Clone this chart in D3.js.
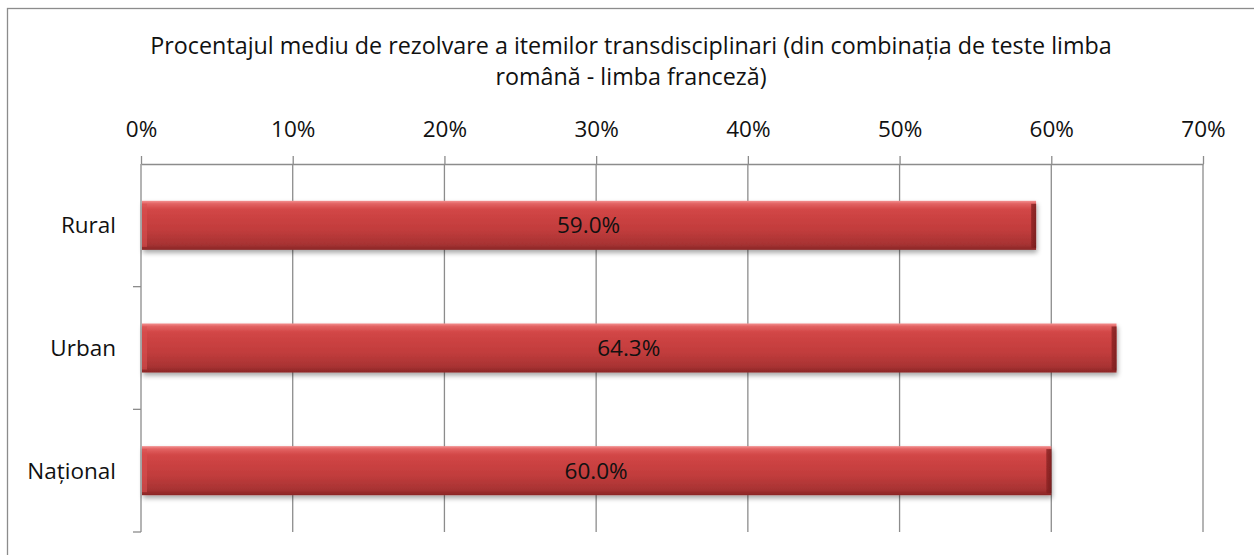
<!DOCTYPE html>
<html>
<head>
<meta charset="utf-8">
<script src="https://cdn.jsdelivr.net/npm/d3@7"></script>
<style>
  body { margin: 0; background: #fff; }
  text { font-family: "Open Sans", "Noto Sans", sans-serif; fill: #111; }
</style>
</head>
<body>
<script>
// data
const categories = ["Rural", "Urban", "Național"];
const values = [59.0, 64.3, 60.0];
const xTicks = [0, 10, 20, 30, 40, 50, 60, 70];
const titleLines = [
  "Procentajul mediu de rezolvare a itemilor transdisciplinari (din combinația de teste limba",
  "română - limba franceză)"
];
// data

const W = 1254, H = 555;
const margin = { top: 164, left: 141, right: 51, bottom: 23 };
const width = W - margin.left - margin.right,
      height = H - margin.top - margin.bottom;
const fontSize = "22.5px";

const svg = d3.select("body").append("svg")
  .attr("width", W)
  .attr("height", H);

// outer frame
svg.append("rect")
  .attr("x", 7.5).attr("y", 8.5)
  .attr("width", W).attr("height", H)
  .attr("fill", "none")
  .attr("stroke", "#8c8c8c")
  .attr("stroke-width", 1.3);

const defs = svg.append("defs");
const grad = defs.append("linearGradient")
  .attr("id", "barGrad").attr("x1", 0).attr("y1", 0).attr("x2", 0).attr("y2", 1);
[[0, "#f39090"], [0.06, "#e26262"], [0.18, "#d24646"], [0.6, "#c13c3c"], [0.88, "#a83333"], [1, "#8a2626"]]
  .forEach(s => grad.append("stop").attr("offset", s[0]).attr("stop-color", s[1]));

const edge = defs.append("linearGradient")
  .attr("id", "edgeGrad").attr("x1", 0).attr("y1", 0).attr("x2", 1).attr("y2", 0);
[[0, "#8a2222"], [1, "#6b1818"]]
  .forEach(s => edge.append("stop").attr("offset", s[0]).attr("stop-color", s[1]));

const shadow = defs.append("filter").attr("id", "shadow")
  .attr("x", "-5%").attr("y", "-20%").attr("width", "110%").attr("height", "160%");
shadow.append("feGaussianBlur").attr("in", "SourceAlpha").attr("stdDeviation", 2.5);
shadow.append("feOffset").attr("dx", 1).attr("dy", 3).attr("result", "b");
shadow.append("feComponentTransfer").append("feFuncA").attr("type", "linear").attr("slope", 0.35);
const merge = shadow.append("feMerge");
merge.append("feMergeNode");
merge.append("feMergeNode").attr("in", "SourceGraphic");

// title
svg.append("text")
  .attr("x", 631)
  .attr("text-anchor", "middle")
  .style("font-size", "23.3px")
  .selectAll("tspan")
  .data(titleLines)
  .enter().append("tspan")
    .attr("x", 631)
    .attr("y", (d, i) => 54 + i * 31)
    .text(d => d);

const g = svg.append("g")
  .attr("transform", `translate(${margin.left},${margin.top})`);

const x = d3.scaleLinear().domain([0, 70]).range([0, width]);
const y = d3.scaleBand().domain(categories).range([0, height]).paddingInner(0.6).paddingOuter(0.3);

// gridlines
g.selectAll(".grid")
  .data(xTicks.slice(1))
  .enter().append("line")
    .attr("class", "grid")
    .attr("x1", d => x(d)).attr("x2", d => x(d))
    .attr("y1", 0).attr("y2", height)
    .attr("stroke", "#8c8c8c")
    .attr("stroke-width", 1.3);

// top axis
const xAxis = g.append("g")
  .call(d3.axisTop(x).tickValues(xTicks).tickFormat(d => d + "%").tickSize(8).tickSizeOuter(0));
xAxis.select(".domain").attr("stroke", "#8c8c8c").attr("stroke-width", 1.3);
xAxis.selectAll(".tick line").attr("stroke", "#8c8c8c").attr("stroke-width", 1.3);
xAxis.selectAll(".tick text")
  .attr("y", -27)
  .style("font-size", fontSize)
  .style("font-family", "'Open Sans', 'Noto Sans', sans-serif")
  .attr("fill", "#111");

// left axis line + category boundary ticks
g.append("line")
  .attr("x1", 0).attr("x2", 0).attr("y1", 0).attr("y2", height)
  .attr("stroke", "#8c8c8c").attr("stroke-width", 1.3);
g.selectAll(".ctick")
  .data(categories)
  .enter().append("line")
    .attr("class", "ctick")
    .attr("x1", -8).attr("x2", 0)
    .attr("y1", (d, i) => (i + 1) * height / categories.length)
    .attr("y2", (d, i) => (i + 1) * height / categories.length)
    .attr("stroke", "#8c8c8c").attr("stroke-width", 1.3);

g.selectAll(".clabel")
  .data(categories)
  .enter().append("text")
    .attr("class", "clabel")
    .attr("x", -25)
    .attr("y", d => y(d) + y.bandwidth() / 2)
    .attr("dy", "0.35em")
    .attr("text-anchor", "end")
    .style("font-size", fontSize)
    .text(d => d);

// bars
const bars = g.selectAll(".bar")
  .data(categories.map((c, i) => ({ c, v: values[i] })))
  .enter().append("g")
    .attr("class", "bar")
    .attr("filter", "url(#shadow)");

bars.append("rect")
  .attr("x", 1)
  .attr("y", d => y(d.c))
  .attr("width", d => x(d.v) - 1)
  .attr("height", y.bandwidth())
  .attr("fill", "url(#barGrad)");

// bevel: lighter left, darker right edge
bars.append("rect")
  .attr("x", 1)
  .attr("y", d => y(d.c) + 3)
  .attr("width", 5)
  .attr("height", y.bandwidth() - 6)
  .attr("fill", "#d85050")
  .attr("opacity", 0.6);
bars.append("rect")
  .attr("x", d => x(d.v) - 5)
  .attr("y", d => y(d.c) + 3)
  .attr("width", 5)
  .attr("height", y.bandwidth() - 5)
  .attr("fill", "url(#edgeGrad)")
  .attr("opacity", 0.75);

// value labels
g.selectAll(".vlabel")
  .data(categories.map((c, i) => ({ c, v: values[i] })))
  .enter().append("text")
    .attr("class", "vlabel")
    .attr("x", d => x(d.v) / 2)
    .attr("y", d => y(d.c) + y.bandwidth() / 2)
    .attr("dy", "0.35em")
    .attr("text-anchor", "middle")
    .style("font-size", fontSize)
    .text(d => d.v.toFixed(1) + "%");
</script>
</body>
</html>
